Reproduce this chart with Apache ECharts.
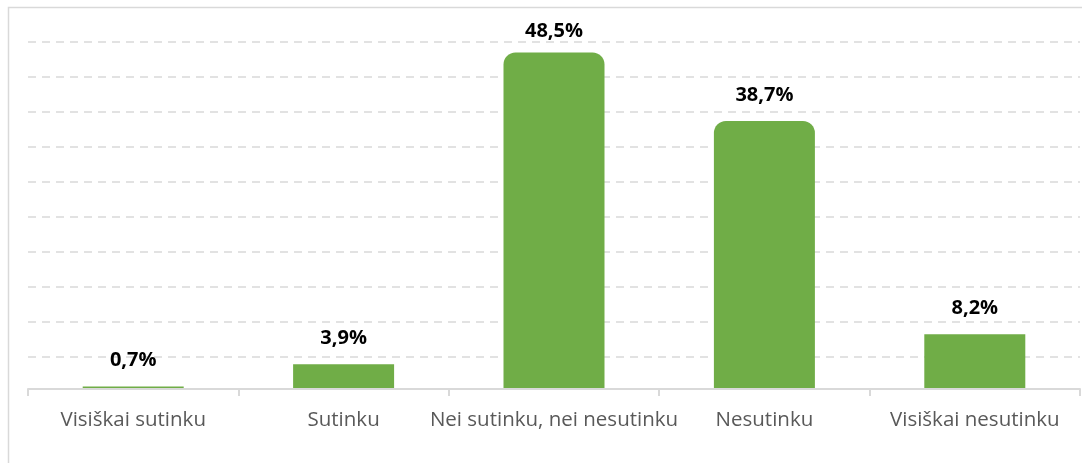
<!DOCTYPE html>
<html><head><meta charset="utf-8">
<script src="https://cdn.jsdelivr.net/npm/echarts@6/dist/echarts.min.js"></script>
<style>html,body{margin:0;padding:0;background:#fff;}#c{width:1082px;height:463px;}</style>
</head><body><div id="c"></div>
<script>
const categories = ["Visiškai sutinku", "Sutinku", "Nei sutinku, nei nesutinku", "Nesutinku", "Visiškai nesutinku"];
const values = [0.7, 3.9, 48.5, 38.7, 8.2];
const roundedBars = [2, 3];

const maxVal = Math.max(...values);
const chart = echarts.init(document.getElementById('c'), null, {renderer: 'canvas'});
chart.setOption({
  animation: false,
  backgroundColor: '#fff',
  graphic: [{
    type: 'rect', silent: true, z: 5,
    shape: {x: 8.5, y: 7.5, width: 1200, height: 600},
    style: {fill: 'none', stroke: '#d9d9d9', lineWidth: 1.5}
  }, {
    type: 'rect', silent: true, z: 5,
    shape: {x: 28, y: 389.5, width: 1054, height: 3},
    style: {fill: '#fff'}
  }],
  grid: {left: 28, right: 2, top: 42, bottom: 71.5},
  xAxis: {
    type: 'category', data: categories, offset: -2.5, z: 10,
    axisLine: {lineStyle: {color: '#d9d9d9', width: 2}},
    axisTick: {show: true, length: 7, lineStyle: {color: '#d9d9d9', width: 2}},
    axisLabel: {color: '#595959', fontSize: 20.5, fontFamily: 'Open Sans', margin: 21, interval: 0}
  },
  yAxis: {
    type: 'value', min: 0, max: 50, interval: 5,
    axisLabel: {show: false}, axisLine: {show: false}, axisTick: {show: false},
    splitLine: {showMinLine: false, lineStyle: {color: '#d9d9d9', type: [8, 6], width: 1.5}}
  },
  series: [{
    type: 'bar', barWidth: 101,
    data: values.map((v, i) => {
      const item = {value: v};
      if (roundedBars.includes(i)) item.itemStyle = {borderRadius: [12, 12, 0, 0]};
      if (v === maxVal) item.label = {distance: 11};
      return item;
    }),
    itemStyle: {color: '#70ad47'},
    label: {
      show: true, position: 'top', distance: 16,
      formatter: p => p.value.toFixed(1).replace('.', ',') + '%',
      color: '#000', fontWeight: 'bold', fontSize: 20, fontFamily: 'Open Sans'
    }
  }]
});
</script></body></html>
